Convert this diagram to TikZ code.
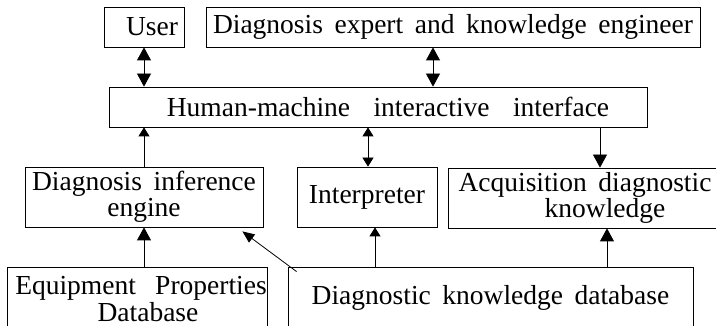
\documentclass[tikz,border=0pt]{standalone}
\usepackage{fontspec}
\setmainfont{Liberation Serif}
\usetikzlibrary{arrows.meta, calc, positioning}

\newcommand{\blockfont}{\fontsize{27.5}{26.5}\selectfont\spaceskip=0.42em\relax}

\begin{document}
\begin{tikzpicture}[x=1pt, y=-1pt, line width=0.8pt, >={Triangle[width=14pt, length=13pt]}]
	\tikzstyle{block} = [draw, rectangle, inner sep=0pt, align=center, font=\blockfont]
	\tikzstyle{thin} = [>={Triangle[width=11pt, length=9pt]}]

	\useasboundingbox (0,0) rectangle (716,326);
	\clip (0,0) rectangle (716,326);

	% top row
	\node[block, minimum width=80pt, minimum height=40pt, text width=68pt, align=right] (user) at (144,27) {User};
	\node[block, minimum width=494pt, minimum height=40pt] (expert) at (453,27) {Diagnosis expert and knowledge engineer};

	% interface
	\node[block, minimum width=538pt, minimum height=40pt] (hmi) at (378,107)
		{\hspace*{20pt}Human-machine\hspace{0.85em}interactive\hspace{0.85em}interface};

	% middle row
	\node[block, minimum width=238pt, minimum height=60pt] (engine) at (144,197) {Diagnosis inference\\engine};
	\node[block, minimum width=140pt, minimum height=60pt] (interp) at (367,197) {Interpreter};
	\node[block, minimum width=294pt, minimum height=60pt] (acq) at (595,198)
		{Acquisition diagnostic\hspace*{20pt}\\\hspace*{20pt}knowledge};

	% bottom row
	\node[block, minimum width=260pt, minimum height=64pt] (equip) at (137,299)
		{\hspace*{8pt}Equipment\hspace{0.7em}Properties\\\hspace*{22pt}Database};
	\node[block, minimum width=405pt, minimum height=62pt] (dkd) at (490.5,298) {Diagnostic knowledge database};

	\coordinate (from) at ($(dkd.north west)+(9,5)$);
	\coordinate (to) at ($(engine.south east)+(-21,4)$);

	\draw[<->] (user.south) -- (user.south |- hmi.north);
	\draw[<->] (433,0 |- expert.south) -- (433,0 |- hmi.north);
	\draw[->, thin] (engine.north) -- (engine.north |- hmi.south);
	\draw[<->, thin] (368,0 |- interp.north) -- (368,0 |- hmi.south);
	\draw[->] (600,0 |- hmi.south) -- (600,0 |- acq.north);
	\draw[->, thin] (375,0 |- dkd.north) -- (375,0 |- interp.south);
	\draw[->] (607,0 |- dkd.north) -- (607,0 |- acq.south);
	\draw[->] (engine.south |- equip.north) -- (engine.south);
	\draw[->, >={Triangle[width=10pt, length=12pt]}] (from) -- (to);
\end{tikzpicture}
\end{document}
